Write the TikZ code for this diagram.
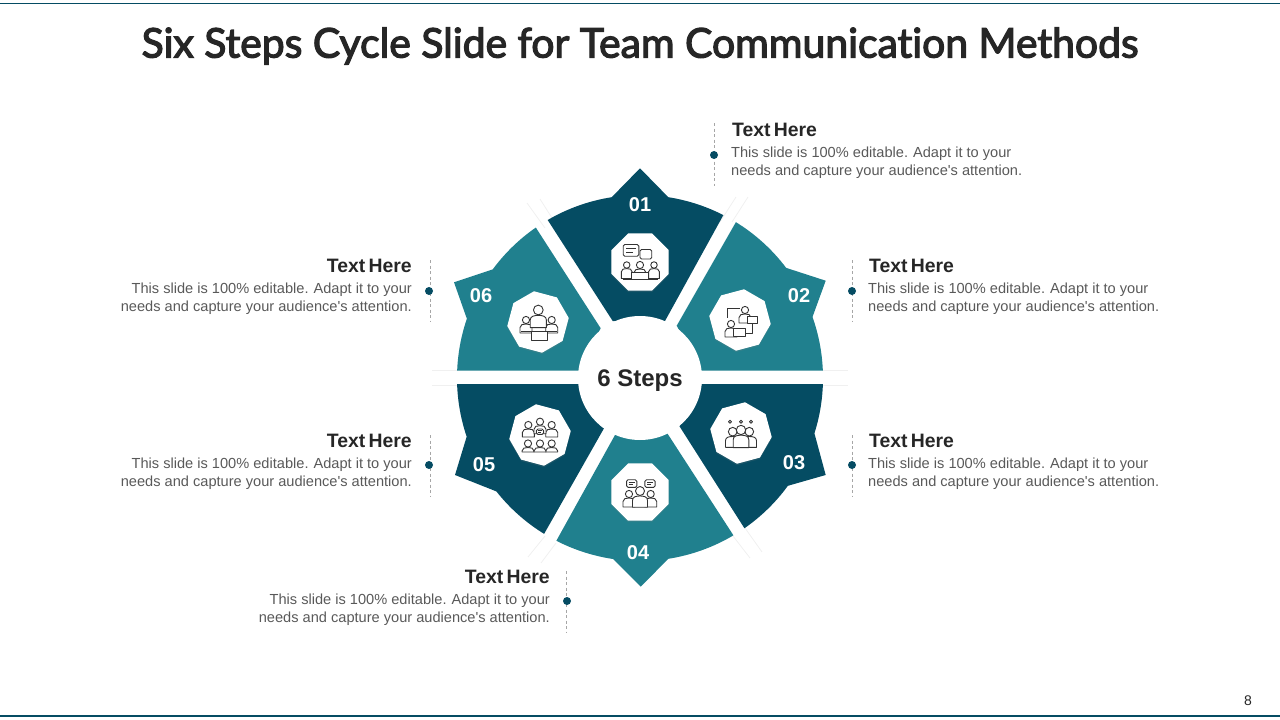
\documentclass[tikz,border=0pt]{standalone}
\usepackage{fontspec}
\setmainfont{Liberation Sans}
\newfontfamily\titlefont[Ligatures={NoCommon,NoRequired},FakeBold=3]{Lato}
\newfontfamily\headfont[WordSpace=0.6]{Liberation Sans}
\usepackage{xcolor}
\usepackage{tikz}
\usetikzlibrary{calc,shapes.geometric,shadows}
\definecolor{navy}{HTML}{054C63}
\definecolor{teal}{HTML}{20808E}
\definecolor{ink}{HTML}{262626}
\definecolor{muted}{HTML}{595959}
\definecolor{iconline}{HTML}{333333}
\definecolor{rule}{HTML}{A6A6A6}

\newcommand{\bodytext}{This slide is 100\% editable.\hspace{5pt}Adapt it to your\\needs and capture your audience\textquotesingle s attention.}

\tikzset{
  octa/.style={regular polygon,regular polygon sides=8,fill=white,inner sep=0pt,minimum size=62pt,
    drop shadow={opacity=.18,shadow xshift=0pt,shadow yshift=-1.5pt}},
  numlab/.style={text=white,font=\fontsize{20}{20}\selectfont\bfseries,inner sep=0pt},
  headlab/.style={text=ink,font=\headfont\fontsize{19.4}{19.4}\selectfont\bfseries,inner sep=0pt},
  bodyright/.style={text=muted,font=\fontsize{14.6}{18}\selectfont,align=right,inner sep=0pt},
  bodyleft/.style={text=muted,font=\fontsize{14.6}{18}\selectfont,align=left,inner sep=0pt},
  guide/.style={draw=rule,dash pattern=on 3pt off 2.5pt,line width=.6pt},
  dot/.style={circle,fill=navy,inner sep=0pt,minimum size=8pt},
  ic/.style={draw=iconline,line width=.9pt,fill=white,line join=round},
  gaptail/.style={draw=black!6,line width=.8pt},
  who/.pic={
    \draw[ic] (-6,#1) -- (-6,7.5) .. controls (-6,4.5) and (-3,4) .. (0,4) .. controls (3,4) and (6,4.5) .. (6,7.5) -- (6,#1) -- cycle;
    \draw[ic] (0,0) circle (3.6);
  },
  talk/.pic={
    \draw[ic,rounded corners=1.5pt] (-6,-5) rectangle (6,4);
    \draw[ic] (-3.5,-2) -- (3.5,-2) (-3.5,.8) -- (1.5,.8);
  },
}

\begin{document}
\begin{tikzpicture}[x=1pt,y=-1pt]
\useasboundingbox (0,0) rectangle (1280,720);

\coordinate (hub) at (640,378);

% frame
\draw[navy,line width=1.2pt] (0,3.5) -- (1280,3.5);
\draw[navy,line width=1.2pt] (0,716) -- (1280,716);

\node[text=ink,font=\titlefont\fontsize{40.9}{40.9}\selectfont] (title) at (640,46) {Six Steps Cycle Slide for Team Communication Methods};
\node[text=ink,font=\fontsize{14}{14}\selectfont] (pagenum) at (1248,701) {8};

% gap tails
\draw[gaptail] (432,370) -- (458,370);
\draw[gaptail] (432,385) -- (458,385);
\draw[gaptail] (822,370) -- (848,370);
\draw[gaptail] (822,385) -- (848,385);
\draw[gaptail] (736,197) -- (720,222);
\draw[gaptail] (748,197) -- (732,222);
\draw[gaptail] (527,203) -- (545,228);
\draw[gaptail] (540,199) -- (552,218);
\draw[gaptail] (545,536) -- (528,557);
\draw[gaptail] (556,543) -- (541,563);
\draw[gaptail] (745,528) -- (762,552);
\draw[gaptail] (733,536) -- (750,558);

% segments
\fill[navy] (612.7,321) -- ($(hub)+(239.7:183)$) arc[start angle=239.7,end angle=261.1,radius=183]
  -- (640,168.3) -- ($(hub)+(278.9:183)$) arc[start angle=278.9,end angle=297.1,radius=183]
  -- (665,321) -- cycle;
\fill[teal] (676.7,325.7) -- ($(hub)+(301.6:183)$) arc[start angle=301.6,end angle=323,radius=183]
  -- (825.7,280.7) -- ($(hub)+(340.5:183)$) arc[start angle=340.5,end angle=357.7,radius=183]
  -- (700.7,370.7) -- cycle;
\fill[navy] (701.7,384) -- ($(hub)+(1.9:183)$) arc[start angle=1.9,end angle=17.6,radius=183]
  -- (825.7,475) -- ($(hub)+(36.1:183)$) arc[start angle=36.1,end angle=55.2,radius=183]
  -- (679.3,426) -- cycle;
\fill[teal] (667.3,433.3) -- ($(hub)+(59.3:183)$) arc[start angle=59.3,end angle=81.1,radius=183]
  -- (640.7,586.7) -- ($(hub)+(98.4:183)$) arc[start angle=98.4,end angle=117.2,radius=183]
  -- (615,435) -- cycle;
\fill[navy] (604,428.3) -- ($(hub)+(121.6:183)$) arc[start angle=121.6,end angle=141.7,radius=183]
  -- (455,475) -- ($(hub)+(161.3:183)$) arc[start angle=161.3,end angle=178.1,radius=183]
  -- (579,384) -- cycle;
\fill[teal] (579,370.7) -- ($(hub)+(182.3:183)$) arc[start angle=182.3,end angle=198.9,radius=183]
  -- (454,282.3) -- ($(hub)+(216.4:183)$) arc[start angle=216.4,end angle=235.3,radius=183]
  -- (600.7,328.3) -- cycle;

\node[circle,fill=white,minimum size=124pt,inner sep=0pt] (core) at (hub) {};
\node[text=ink,font=\fontsize{24}{24}\selectfont\bfseries,inner sep=0pt] (steps) at (640,381) {6 Steps};

\node[octa] (oct1) at (640,262) {};
\node[octa,rotate=15] (oct2) at (740,320) {};
\node[octa,rotate=15] (oct3) at (741,433) {};
\node[octa] (oct4) at (640,492) {};
\node[octa,rotate=-15] (oct5) at (540,435) {};
\node[octa,rotate=-15] (oct6) at (538,322) {};

\node[numlab] (n1) at (640,205) {01};
\node[numlab] (n2) at (799,296) {02};
\node[numlab] (n3) at (794,463) {03};
\node[numlab] (n4) at (638,553) {04};
\node[numlab] (n5) at (484,465) {05};
\node[numlab] (n6) at (481,296) {06};

% icon 01
\pic[scale=.9] at (626.7,265) {who=15};
\pic[scale=.9] at (654,265) {who=15};
\pic at (640,265) {who=13};
\draw[ic] (631.7,272) rectangle (648,279.5);
\draw[ic] (622.5,279.5) -- (657.5,279.5);
\draw[ic,rounded corners=1.5pt] (640,249.5) rectangle (651.7,259);
\pic[scale=1.3] at (631,251) {talk};
% icon 02
\draw[ic,fill=none] (740,308) -- (727,308) -- (727,318);
\draw[ic,fill=none] (752,324) -- (752,333) -- (746,333);
\pic at (745,310) {who=13};
\draw[ic] (747.5,316) rectangle (757,323);
\pic at (731,324) {who=13};
\draw[ic] (733.5,328) rectangle (745,336.5);
% icon 03
\pic[scale=1.2] at (732.7,431.7) {who=13};
\pic[scale=1.2] at (749.3,431.7) {who=13};
\pic[scale=1.3] at (741,430) {who=13.5};
\foreach \sx in {730,741,751}
  \draw[ic] (\sx-1.5,421.7) -- (\sx,420.2) -- (\sx+1.5,421.7) -- (\sx,423.2) -- cycle;
% icon 04
\pic[scale=.85] at (631.7,484) {talk};
\pic[scale=.85] at (650,484) {talk};
\pic at (629,494) {who=13};
\pic at (650.7,494) {who=13};
\pic[scale=1.25] at (640,491) {who=13};
% icon 05
\pic at (528.3,425) {who=12};
\pic at (551.7,425) {who=12};
\pic at (540,421.7) {who=12};
\pic[scale=.6] at (540,432) {talk};
\pic at (528,443.5) {who=8.5};
\pic at (551.7,443.5) {who=8.5};
\pic at (540,443.5) {who=8.5};
% icon 06
\pic at (526,320) {who=13};
\pic at (551.7,320) {who=13};
\pic[scale=1.35] at (538.3,310) {who=13};
\draw[ic] (531,331) rectangle (547,340);
\draw[ic] (521,331) -- (531,331) (547,331) -- (557,331);

% step 01
\coordinate (g1a) at (714.5,123);
\coordinate (g1b) at (714.5,186);
\draw[guide] (g1a) -- (g1b);
\node[dot] (d1) at (714,155) {};
\node[headlab,anchor=west] (h1) at (732,129.5) {Text Here};
\node[bodyleft,anchor=west] (t1) at (731,163) {\bodytext};
% step 02
\coordinate (g2a) at (852,260);
\coordinate (g2b) at (852,322);
\draw[guide] (g2a) -- (g2b);
\node[dot] (d2) at (852,291) {};
\node[headlab,anchor=west] (h2) at (869,265.5) {Text Here};
\node[bodyleft,anchor=west] (t2) at (868,299) {\bodytext};
% step 03
\coordinate (g3a) at (852,435);
\coordinate (g3b) at (852,497);
\draw[guide] (g3a) -- (g3b);
\node[dot] (d3) at (852,465) {};
\node[headlab,anchor=west] (h3) at (869,440.5) {Text Here};
\node[bodyleft,anchor=west] (t3) at (868,474) {\bodytext};
% step 04
\coordinate (g4a) at (566.5,571);
\coordinate (g4b) at (566.5,633);
\draw[guide] (g4a) -- (g4b);
\node[dot] (d4) at (567,601) {};
\node[headlab,anchor=east] (h4) at (550,576.5) {Text Here};
\node[bodyright,anchor=east] (t4) at (550,610) {\bodytext};
% step 05
\coordinate (g5a) at (430,435);
\coordinate (g5b) at (430,497);
\draw[guide] (g5a) -- (g5b);
\node[dot] (d5) at (429,465) {};
\node[headlab,anchor=east] (h5) at (412,440.5) {Text Here};
\node[bodyright,anchor=east] (t5) at (412,474) {\bodytext};
% step 06
\coordinate (g6a) at (430,260);
\coordinate (g6b) at (430,322);
\draw[guide] (g6a) -- (g6b);
\node[dot] (d6) at (429,291) {};
\node[headlab,anchor=east] (h6) at (412,265.5) {Text Here};
\node[bodyright,anchor=east] (t6) at (412,299) {\bodytext};
\end{tikzpicture}
\end{document}
